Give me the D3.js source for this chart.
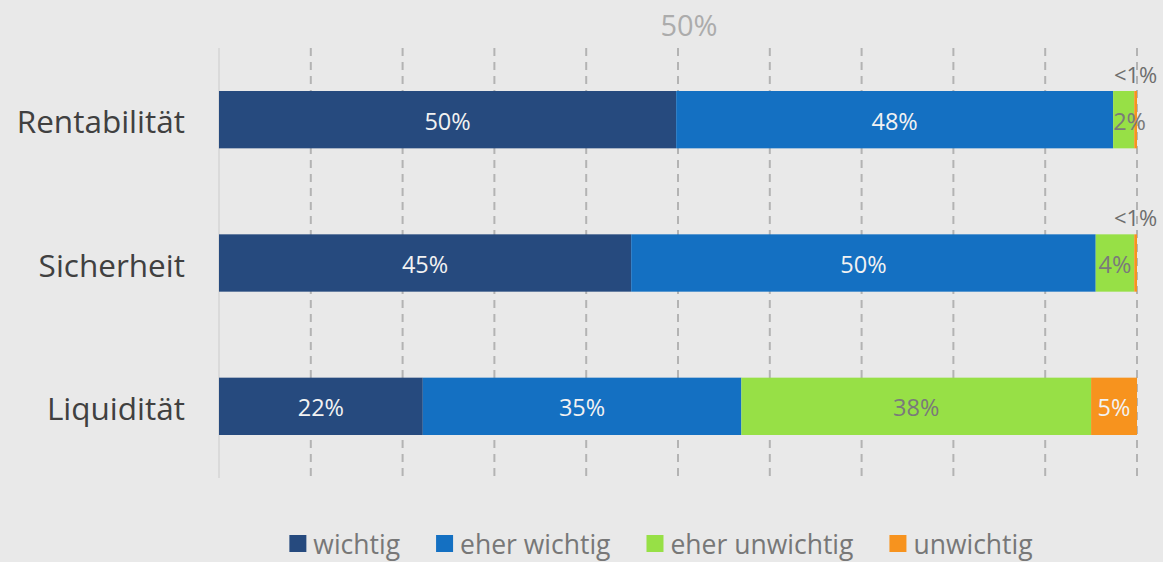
<!DOCTYPE html>
<html>
<head>
<meta charset="utf-8">
<script src="https://cdn.jsdelivr.net/npm/d3@7"></script>
<style>
    body { margin: 0; background: #e9e9e9; }
    svg { display: block; font-family: "Open Sans", sans-serif; }
</style>
</head>
<body>
<div id="chart"></div>
<script>
// data
let categories = ["Rentabilität", "Sicherheit", "Liquidität"]
let series = ["wichtig", "eher wichtig", "eher unwichtig", "unwichtig"]
let colors = ["#264a7e", "#1470c2", "#97e046", "#f7931e"]
let wichtig = [49.8, 44.9, 22.2]
let eherWichtig = [47.6, 50.6, 34.7]
let eherUnwichtig = [2.3, 4.2, 38.1]
let unwichtig = [0.3, 0.3, 5.0]
let labels = [
    ["50%", "48%", "2%", "<1%"],
    ["45%", "50%", "4%", "<1%"],
    ["22%", "35%", "38%", "5%"]
]
let gridTicks = [0, 10, 20, 30, 40, 50, 60, 70, 80, 90, 100]
let topLabel = "50%"

let width = 1163, height = 562
let plotLeft = 219, plotRight = 1137, plotTop = 48, plotBottom = 478

let svg = d3.select("#chart")
    .append("svg")
        .attr("width", width)
        .attr("height", height)

svg.append("rect")
    .attr("width", width)
    .attr("height", height)
    .attr("fill", "#e9e9e9")

let x = d3.scaleLinear().domain([0, 100]).range([plotLeft, plotRight])
let y = d3.scaleBand().domain(categories).range([plotTop, plotBottom]).padding(0.6).paddingOuter(0.3)

// grid lines
svg.append("g")
    .selectAll("line")
    .data(gridTicks.slice(1))
    .join("line")
        .attr("x1", d => x(d))
        .attr("x2", d => x(d))
        .attr("y1", plotTop)
        .attr("y2", plotBottom)
        .attr("stroke", "#b3b3b3")
        .attr("stroke-width", 2)
        .attr("stroke-dasharray", "8,6")

svg.append("line")
    .attr("x1", x(0)).attr("x2", x(0))
    .attr("y1", plotTop).attr("y2", plotBottom)
    .attr("stroke", "#dadada")
    .attr("stroke-width", 2)

svg.append("text")
    .attr("x", x(50) + 11)
    .attr("y", 36)
    .attr("text-anchor", "middle")
    .attr("fill", "#acacac")
    .style("font-size", "29px")
    .text(topLabel)

// stacked rows
let rows = categories.map((c, i) => {
    let vals = [wichtig[i], eherWichtig[i], eherUnwichtig[i], unwichtig[i]]
    let acc = 0
    return vals.map((v, k) => {
        let seg = {cat: c, k: k, x0: acc, x1: acc + v, label: labels[i][k]}
        acc += v
        return seg
    })
})
let segs = rows.flat()

let body = svg.append("g")

body.selectAll("rect")
    .data(segs)
    .join("rect")
        .attr("x", d => x(d.x0))
        .attr("y", d => y(d.cat))
        .attr("width", d => x(d.x1) - x(d.x0))
        .attr("height", y.bandwidth())
        .attr("fill", d => colors[d.k])

body.selectAll("text.val")
    .data(segs)
    .join("text")
        .attr("class", "val")
        .style("font-size", d => d.label == "<1%" ? "22px" : "23.5px")
        .attr("fill", d => d.k == 2 ? "#7a7a7a" : (d.label == "<1%" ? "#6e6e6e" : "#f2f2f2"))
        .text(d => d.label)
        .each(function(d) {
            let t = d3.select(this)
            let w = this.getComputedTextLength()
            let segW = x(d.x1) - x(d.x0)
            let cx = (x(d.x0) + x(d.x1)) / 2
            if (d.label == "<1%") {
                cx = Math.min(cx, width - 1 - w / 2)
                t.attr("x", cx).attr("text-anchor", "middle")
                    .attr("y", y(d.cat) - 8)
            } else {
                if (w > segW) {
                    t.attr("x", x(d.x0)).attr("text-anchor", "start")
                } else {
                    t.attr("x", cx).attr("text-anchor", "middle")
                }
                t.attr("y", y(d.cat) + y.bandwidth() / 2 + 1)
                    .attr("dominant-baseline", "central")
            }
        })

// category labels
svg.append("g")
    .selectAll("text")
    .data(categories)
    .join("text")
        .attr("x", 185)
        .attr("y", d => y(d) + y.bandwidth() / 2 + 1)
        .attr("text-anchor", "end")
        .attr("dominant-baseline", "central")
        .attr("fill", "#404040")
        .style("font-size", "31.5px")
        .text(d => d)

// legend
let legend = svg.append("g")
let lx = 0
series.forEach((s, i) => {
    let g = legend.append("g")
    g.append("rect")
        .attr("x", 0).attr("y", -19)
        .attr("width", 17).attr("height", 17)
        .attr("fill", colors[i])
    let t = g.append("text")
        .attr("x", 24)
        .attr("y", 0)
        .attr("fill", "#777777")
        .style("font-size", "26.5px")
        .text(s)
    g.attr("transform", `translate(${lx},0)`)
    lx += 24 + t.node().getComputedTextLength() + 36
})
let totalW = lx - 36
legend.attr("transform", `translate(${661 - totalW / 2}, 554)`)
</script>
</body>
</html>
